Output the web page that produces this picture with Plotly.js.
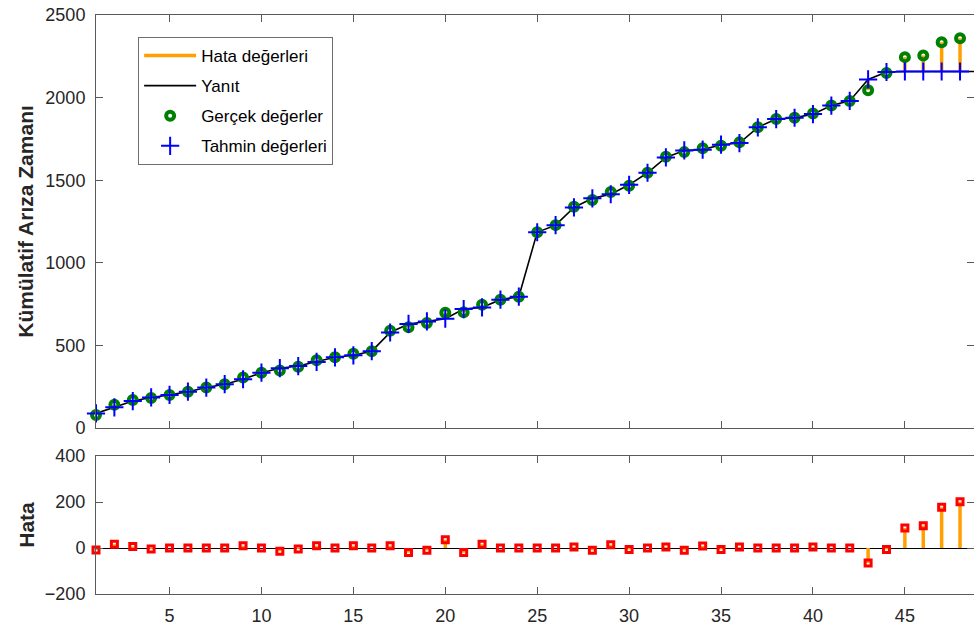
<!DOCTYPE html>
<html>
<head>
<meta charset="utf-8">
<script src="https://cdn.plot.ly/plotly-3.0.1.min.js"></script>
<style>html,body{margin:0;padding:0;background:#fff;}#chart{width:974px;height:628px;}</style>
</head>
<body>
<div id="chart"></div>
<script>
// Index of each observation
const xValues = [1,2,3,4,5,6,7,8,9,10,11,12,13,14,15,16,17,18,19,20,21,22,23,24,25,26,27,28,29,30,31,32,33,34,35,36,37,38,39,40,41,42,43,44,45,46,47,48];
// Gerçek değerler (actual cumulative failure times)
const actual = [79,141,169,181,200,220,245,265,305,335,348,371,410,428,450,465,588,610,635,698,700,746,777,795,1185,1228,1339,1380,1429,1466,1545,1642,1670,1694,1709,1729,1820,1870,1878,1904,1952,1980,2045,2149,2245,2255,2335,2359];
// Tahmin değerleri (predicted)
const predicted = [88,125,163,185,200,220,245,265,295,335,362,375,400,428,440,465,578,630,645,662,720,730,777,795,1185,1228,1335,1390,1415,1472,1545,1638,1680,1685,1715,1725,1820,1870,1878,1900,1952,1980,2110,2155,2158,2158,2158,2158];
// Response curve continues one step past the last observation
const responseExtraX = [49];
const responseExtraY = [2158];

const xTicks = [5,10,15,20,25,30,35,40,45];
const topTicks = [0,500,1000,1500,2000,2500];
const botTicks = [-200,0,200,400];

const errors = actual.map((a,i)=>a-predicted[i]);

// stems
const stemTopX=[], stemTopY=[], stemBotX=[], stemBotY=[];
xValues.forEach((x,i)=>{
  stemTopX.push(x,x,null); stemTopY.push(predicted[i],actual[i],null);
  stemBotX.push(x,x,null); stemBotY.push(0,errors[i],null);
});

const orange='rgb(255,160,0)';
const traces = [
  {x:stemTopX,y:stemTopY,mode:'lines',line:{color:orange,width:3.5},name:'Hata değerleri',legendgroup:'a',xaxis:'x',yaxis:'y',hoverinfo:'skip'},
  {x:xValues.concat(responseExtraX),y:predicted.concat(responseExtraY),mode:'lines',line:{color:'#000',width:1.6},name:'Yanıt',legendgroup:'b',xaxis:'x',yaxis:'y'},
  {x:xValues,y:actual,mode:'markers',cliponaxis:false,marker:{symbol:'circle-open',size:8,color:'rgb(0,128,0)',line:{width:4,color:'rgb(0,128,0)'}},name:'Gerçek değerler',legendgroup:'c',xaxis:'x',yaxis:'y'},
  {x:xValues,y:predicted,mode:'markers',cliponaxis:false,marker:{symbol:'cross-thin-open',size:13,color:'rgb(0,0,255)',line:{width:2,color:'rgb(0,0,255)'}},name:'Tahmin değerleri',legendgroup:'d',xaxis:'x',yaxis:'y'},
  {x:stemBotX,y:stemBotY,mode:'lines',line:{color:orange,width:3.5},showlegend:false,xaxis:'x2',yaxis:'y2',hoverinfo:'skip'},
  {x:xValues,y:errors,mode:'markers',cliponaxis:false,marker:{symbol:'square-open',size:6,color:'rgb(255,0,0)',line:{width:3,color:'rgb(255,0,0)'}},showlegend:false,xaxis:'x2',yaxis:'y2'}
];

const axColor='#5a5a5a';
const tickFont={family:'Liberation Sans, Arial, sans-serif',size:18,color:'#262626'};
const common={showline:true,linecolor:axColor,linewidth:1,mirror:'ticks',ticks:'inside',ticklen:7,tickcolor:axColor,showgrid:false,zeroline:false,tickfont:tickFont,ticklabelstandoff:6};

const layout={
  width:974,height:628,
  margin:{l:96,r:0,t:15,b:34},
  paper_bgcolor:'#fff',plot_bgcolor:'#fff',
  font:{family:'Liberation Sans, Arial, sans-serif',color:'#262626'},
  showlegend:true,
  legend:{x:0.048,y:0.962,xanchor:'left',yanchor:'top',bordercolor:'#6e6e6e',borderwidth:1,bgcolor:'#fff',itemwidth:52,
    font:{size:17,color:'#000',family:'Liberation Sans, Arial, sans-serif'},tracegroupgap:5},
  xaxis:Object.assign({},common,{domain:[0,1],range:[1,48.76],tickvals:xTicks,showticklabels:false,anchor:'y'}),
  yaxis:Object.assign({},common,{domain:[0.2867,1],range:[0,2500],tickvals:topTicks,anchor:'x',
    title:{text:'<b>Kümülatif Arıza Zamanı</b>',font:{size:21,color:'#262626'},standoff:6}}),
  xaxis2:Object.assign({},common,{domain:[0,1],range:[1,48.76],tickvals:xTicks,anchor:'y2',ticklabelstandoff:5}),
  yaxis2:Object.assign({},common,{domain:[0,0.2383],range:[-200,400],tickvals:botTicks,anchor:'x2',zeroline:true,zerolinecolor:'#000',zerolinewidth:1,
    title:{text:'<b>Hata</b>',font:{size:21,color:'#262626'},standoff:4}})
};
Plotly.newPlot('chart',traces,layout,{displayModeBar:false,staticPlot:true});
</script>
</body>
</html>
